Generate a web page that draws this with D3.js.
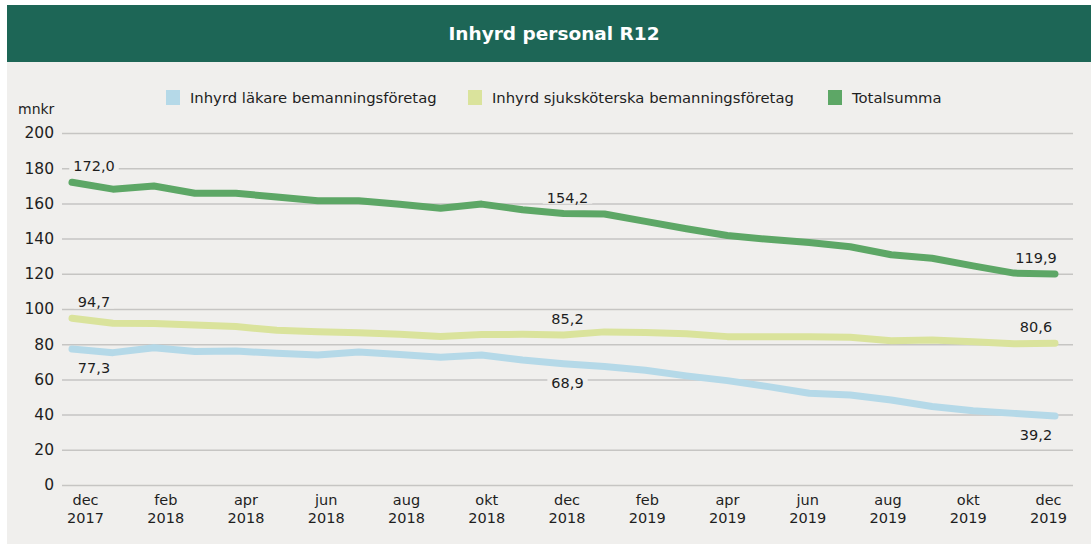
<!DOCTYPE html>
<html>
<head>
<meta charset="utf-8">
<script src="https://cdn.jsdelivr.net/npm/d3@7"></script>
<style>
  body { margin: 0; background: #fff; }
  svg { display: block; font-family: "DejaVu Sans", sans-serif; }
</style>
</head>
<body>
<svg id="chart" width="1091" height="544"></svg>
<script>
const months = ['dec 2017', 'jan 2018', 'feb 2018', 'mar 2018', 'apr 2018', 'maj 2018', 'jun 2018', 'jul 2018',
  'aug 2018', 'sep 2018', 'okt 2018', 'nov 2018', 'dec 2018', 'jan 2019', 'feb 2019', 'mar 2019', 'apr 2019',
  'maj 2019', 'jun 2019', 'jul 2019', 'aug 2019', 'sep 2019', 'okt 2019', 'nov 2019', 'dec 2019']
const tickLabels = ['dec 2017', 'feb 2018', 'apr 2018', 'jun 2018', 'aug 2018', 'okt 2018', 'dec 2018',
  'feb 2019', 'apr 2019', 'jun 2019', 'aug 2019', 'okt 2019', 'dec 2019']
const lakare = [77.3, 75.2, 78.0, 75.8, 76.1, 74.8, 73.9, 75.6, 74.2, 72.6, 73.9, 71.0, 68.9, 67.3, 65.2,
  62.0, 59.3, 55.9, 52.1, 51.1, 48.3, 44.6, 42.2, 40.7, 39.2]
const sjukskoterska = [94.7, 91.9, 91.8, 90.9, 90.0, 87.9, 87.1, 86.5, 85.6, 84.4, 85.5, 85.6, 85.2, 87.0, 86.6,
  85.9, 84.3, 84.3, 84.2, 83.9, 81.9, 82.4, 81.4, 80.2, 80.6]
const totalsumma = [172.0, 168.1, 169.9, 165.8, 165.8, 163.6, 161.5, 161.5, 159.5, 157.3, 159.6, 156.4, 154.2,
  154.0, 149.8, 145.6, 141.8, 139.6, 137.8, 135.4, 130.8, 128.8, 124.5, 120.4, 119.9]
const yTicks = [0, 20, 40, 60, 80, 100, 120, 140, 160, 180, 200]
// which points get a value label
const labelIdx = [0, 12, 24]

const series = [
  { name: 'Inhyrd läkare bemanningsföretag', values: lakare, color: '#b5d9e8', side: 1 },
  { name: 'Inhyrd sjuksköterska bemanningsföretag', values: sjukskoterska, color: '#dae39c', side: -1 },
  { name: 'Totalsumma', values: totalsumma, color: '#5da766', side: -1 }
]

const svg = d3.select('#chart')
const bg = '#f0efed'
const ink = '#1e1e1e'

svg.append('rect').attr('x', 7).attr('y', 5).attr('width', 1084).attr('height', 539).attr('fill', bg)
svg.append('rect').attr('x', 7).attr('y', 5).attr('width', 1084).attr('height', 57).attr('fill', '#1d6656')
svg.append('text').attr('x', 554).attr('y', 40).attr('text-anchor', 'middle')
  .attr('fill', '#fff').attr('font-size', 18.5).attr('font-weight', 700).text('Inhyrd personal R12')

const scaleX = d3.scalePoint().domain(months).range([72, 1055])
const scaleY = d3.scaleLinear().domain([0, 200]).range([485, 133])
const labelX = d3.scalePoint().domain(tickLabels).range([85, 1048])

// grid + y axis
const axisY = d3.axisLeft(scaleY).tickValues(yTicks).tickSize(-1011).tickPadding(8)
const gy = svg.append('g').attr('transform', 'translate(62,0)').call(axisY)
gy.select('.domain').remove()
gy.selectAll('line').attr('stroke', '#c6c5c3').attr('stroke-width', 1.5)
gy.selectAll('text').attr('font-size', 15.5).attr('fill', ink).attr('font-family', '"DejaVu Sans", sans-serif')

svg.append('text').attr('x', 18).attr('y', 114).attr('font-size', 14).attr('fill', ink).text('mnkr')

// x axis
const axisX = d3.axisBottom(labelX).tickSize(0).tickPadding(0)
const gx = svg.append('g').attr('transform', 'translate(0,498)').call(axisX)
gx.select('.domain').remove()
gx.selectAll('text').attr('font-size', 14.5).attr('fill', ink).attr('font-family', '"DejaVu Sans", sans-serif')
  .each(function (d) {
    const parts = d.split(' ')
    const t = d3.select(this).text(null)
    t.append('tspan').attr('x', 0).attr('dy', '0.5em').text(parts[0])
    t.append('tspan').attr('x', 0).attr('dy', '1.25em').text(parts[1])
  })

// lines
const lineGenerator = d3.line().x((d, i) => scaleX(months[i])).y(d => scaleY(d))
svg.append('g').selectAll('path').data(series).join('path')
  .attr('d', d => lineGenerator(d.values))
  .attr('fill', 'none')
  .attr('stroke', d => d.color)
  .attr('stroke-width', 7)
  .attr('stroke-linecap', 'round')
  .attr('stroke-linejoin', 'round')

// value labels
const fmt = v => d3.format('.1f')(v).replace('.', ',')
series.forEach(s => {
  labelIdx.forEach(i => {
    const x = scaleX(months[i]) + (i === 0 ? 22 : i === 24 ? -19 : 4)
    const y = scaleY(s.values[i]) + (s.side > 0 ? 19 : -16)
    const g = svg.append('g')
    const t = g.append('text').attr('x', x).attr('y', y).attr('dy', '0.35em')
      .attr('text-anchor', 'middle').attr('font-size', 14.5).attr('fill', ink).text(fmt(s.values[i]))
    const b = t.node().getBBox()
    g.insert('rect', 'text').attr('x', b.x - 4).attr('y', b.y + 2).attr('width', b.width + 8)
      .attr('height', b.height - 4).attr('fill', bg)
  })
})

// legend
const legendX = [166, 468, 828]
const legend = svg.append('g').selectAll('g').data(series).join('g')
  .attr('transform', (d, i) => `translate(${legendX[i]},90)`)
legend.append('rect').attr('width', 14).attr('height', 15).attr('fill', d => d.color)
legend.append('text').attr('x', 24).attr('y', 12.5).attr('font-size', 14.8).attr('fill', ink).text(d => d.name)
</script>
</body>
</html>
